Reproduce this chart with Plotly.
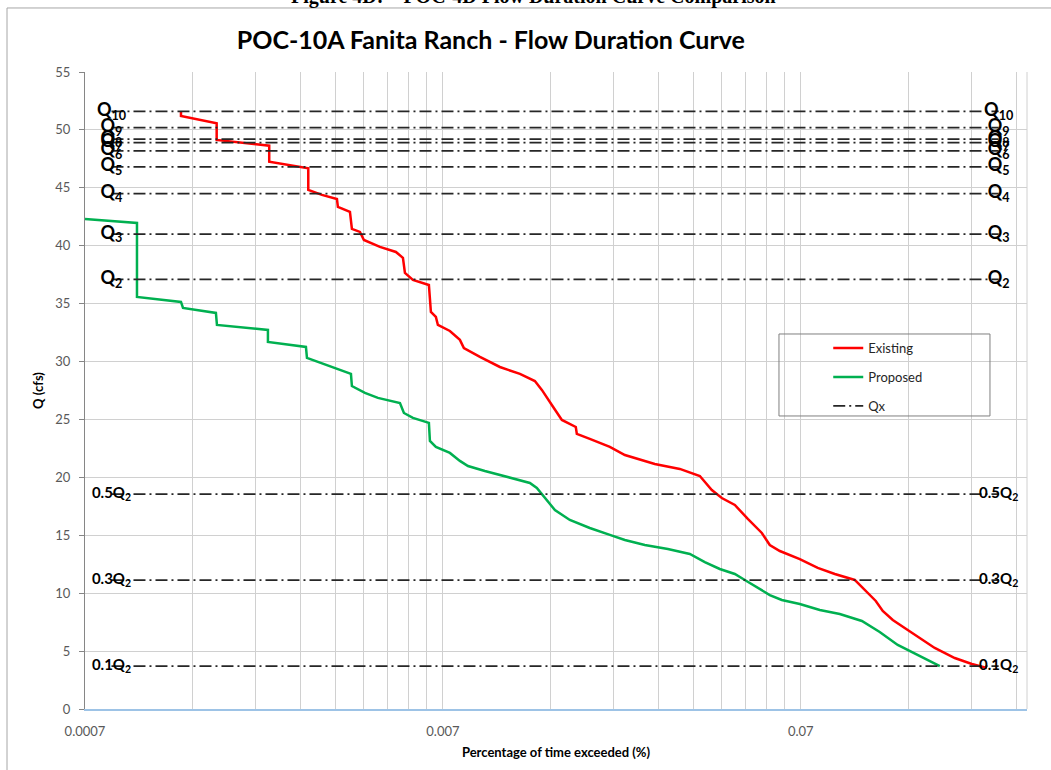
import plotly.graph_objects as go

# Flow-duration data: percentage of time exceeded (%) vs discharge Q (cfs)
existing_pct = [0.001298, 0.001298, 0.001633, 0.001633, 0.00229, 0.00229, 0.002944, 0.002944,
                0.003214, 0.00354, 0.003562, 0.003849, 0.003898, 0.004105, 0.004211, 0.004668,
                0.005174, 0.005413, 0.005483, 0.005772, 0.006397, 0.00648, 0.006691, 0.006778,
                0.007322, 0.007809, 0.008012, 0.008883, 0.0101, 0.01149, 0.01265, 0.01323,
                0.01411, 0.01505, 0.01646, 0.01657, 0.01801, 0.02049, 0.02257, 0.02736,
                0.03214, 0.03656, 0.03949, 0.04211, 0.04579, 0.04978, 0.05448, 0.05734,
                0.06117, 0.06955, 0.07806, 0.08714, 0.09905, 0.1063, 0.1134, 0.1186,
                0.1265, 0.1366, 0.1505, 0.1657, 0.1885, 0.2104, 0.2316]
existing_q = [51.6, 51.21, 50.58, 49.14, 48.64, 47.26, 46.69, 44.82, 44.39, 44.04,
              43.35, 42.92, 41.45, 41.19, 40.50, 39.90, 39.46, 38.95, 37.65, 37.05,
              36.61, 34.28, 33.85, 33.16, 32.64, 31.87, 31.17, 30.40, 29.53, 28.93,
              28.32, 27.55, 26.25, 24.96, 24.35, 23.75, 23.32, 22.63, 21.93, 21.16,
              20.73, 20.12, 18.91, 18.22, 17.62, 16.41, 15.20, 14.16, 13.64, 12.95,
              12.18, 11.66, 11.14, 10.19, 9.33, 8.46, 7.69, 6.99, 6.13, 5.27,
              4.40, 3.89, 3.54]

proposed_pct = [0.0007, 0.000978, 0.000978, 0.001298, 0.001315, 0.001625, 0.001636, 0.002271,
                0.002271, 0.0029, 0.002919, 0.003384, 0.003874, 0.003898, 0.004239, 0.004608,
                0.00531, 0.005447, 0.005772, 0.006397, 0.006439, 0.006691, 0.007322, 0.007809,
                0.008225, 0.00917, 0.01077, 0.01225, 0.01281, 0.01349, 0.01439, 0.01584,
                0.01801, 0.02049, 0.02257, 0.02566, 0.02976, 0.03428, 0.03775, 0.04157,
                0.04579, 0.04883, 0.0531, 0.05734, 0.06194, 0.06955, 0.07911, 0.08995,
                0.1037, 0.1163, 0.1306, 0.1429, 0.1555, 0.1712]
proposed_q = [42.31, 41.97, 35.58, 35.15, 34.63, 34.20, 33.16, 32.73, 31.69, 31.26,
              30.31, 29.62, 28.93, 27.89, 27.29, 26.86, 26.42, 25.56, 25.13, 24.70,
              23.14, 22.63, 22.11, 21.42, 20.98, 20.55, 19.95, 19.52, 19.08, 18.22,
              17.18, 16.32, 15.63, 15.03, 14.59, 14.16, 13.82, 13.39, 12.69, 12.09,
              11.66, 11.14, 10.45, 9.84, 9.41, 9.07, 8.55, 8.20, 7.60, 6.65,
              5.53, 4.92, 4.32, 3.71]

# Return-period flows (cfs) and fractions of Q2
q_labels = ["Q<sub>2</sub>", "Q<sub>3</sub>", "Q<sub>4</sub>", "Q<sub>5</sub>", "Q<sub>6</sub>",
            "Q<sub>7</sub>", "Q<sub>8</sub>", "Q<sub>9</sub>", "Q<sub>10</sub>"]
q_values = [37.1, 41.0, 44.5, 46.8, 48.2, 48.9, 49.2, 50.2, 51.6]
frac_labels = ["0.5Q<sub>2</sub>", "0.3Q<sub>2</sub>", "0.1Q<sub>2</sub>"]
frac_factors = [0.5, 0.3, 0.1]
qx_span = [0.00083, 0.25]

x_major = [0.0007, 0.007, 0.07]
x_major_text = ["0.0007", "0.007", "0.07"]
x_max = 0.3
y_max = 55

FONT = "Lato"

fig = go.Figure()

fig.add_trace(go.Scatter(x=existing_pct, y=existing_q, mode="lines", name="Existing",
                         line=dict(color="#ff0000", width=2.5), legendgroup="a"))
fig.add_trace(go.Scatter(x=proposed_pct, y=proposed_q, mode="lines", name="Proposed",
                         line=dict(color="#00b050", width=2.5), legendgroup="b"))

# Horizontal reference flows drawn as one dash-dot series
level_vals = q_values + [q_values[0] * f for f in frac_factors]
level_text = q_labels + frac_labels
qx_x, qx_y = [], []
for v in level_vals:
    qx_x += [qx_span[0], qx_span[1], None]
    qx_y += [v, v, None]
fig.add_trace(go.Scatter(x=qx_x, y=qx_y, mode="lines", name="Qx",
                         line=dict(color="#262626", width=1.75, dash="12px,4px,2px,4px"),
                         legendgroup="c"))

lab_x, lab_y, lab_t, lab_s = [], [], [], []
for v, t in zip(level_vals, level_text):
    small = t.startswith("0.")
    for xe in qx_span:
        lab_x.append(xe)
        lab_y.append(v)
        lab_t.append("<b>" + t + "</b>")
        lab_s.append(15 if small else 18)
fig.add_trace(go.Scatter(x=lab_x, y=lab_y, mode="text", text=lab_t, textposition="middle center",
                         textfont=dict(family=FONT, size=lab_s, color="#000000"),
                         showlegend=False, hoverinfo="skip"))

# Log-axis gridlines at every multiple of the decade base
grid_vals, grid_text = [], []
for base, txt in zip(x_major, x_major_text):
    for k in range(1, 10):
        v = base * k
        if v <= x_max * 1.0001:
            grid_vals.append(v)
            grid_text.append(txt if k == 1 else "")

fig.update_xaxes(type="log", range=[-3.15490196, -0.52287875], tickmode="array",
                 tickvals=grid_vals, ticktext=grid_text, tickangle=0, showgrid=True,
                 gridcolor="#d0d0d0", gridwidth=1, showline=True, linecolor="#9dc3e6",
                 linewidth=1.5, ticks="", ticklabelstandoff=10,
                 tickfont=dict(family=FONT, size=13, color="#595959"), zeroline=False,
                 title=dict(text="<b>Percentage of time exceeded (%)</b>", standoff=10,
                            font=dict(family=FONT, size=13, color="#000000")))
fig.update_yaxes(range=[0, y_max], dtick=5, showgrid=True, gridcolor="#d0d0d0", gridwidth=1,
                 showline=True, linecolor="#868686", linewidth=1, ticks="outside", ticklen=5,
                 tickcolor="#868686", zeroline=False, ticklabelstandoff=6,
                 tickfont=dict(family=FONT, size=13, color="#595959"),
                 title=dict(text="<b>Q (cfs)</b>", standoff=8,
                            font=dict(family=FONT, size=13, color="#000000")))

fig.update_layout(
    width=1051, height=770,
    margin=dict(l=85, r=24, t=72, b=61),
    paper_bgcolor="white", plot_bgcolor="white",
    title=dict(text="<b>POC-10A Fanita Ranch - Flow Duration Curve</b>", x=0.467, xanchor="center",
               y=0.948, yanchor="middle", font=dict(family=FONT, size=25, color="#000000")),
    legend=dict(x=0.789, y=0.59, xanchor="left", yanchor="top", bgcolor="rgba(0,0,0,0)",
                borderwidth=0, font=dict(family=FONT, size=13, color="#262626"),
                tracegroupgap=9, traceorder="grouped"),
    shapes=[
        dict(type="rect", xref="paper", yref="paper", x0=0.7367, x1=0.9607, y0=0.46, y1=0.5887,
             line=dict(color="#7f7f7f", width=1), fillcolor="rgba(0,0,0,0)", layer="above"),
        dict(type="line", xref="paper", yref="paper", x0=1, x1=1, y0=0, y1=1,
             line=dict(color="#d0d0d0", width=1)),
        dict(type="rect", xref="paper", yref="paper", x0=-0.0828, x1=1.2, y0=-0.3, y1=1.1005,
             line=dict(color="#a6a6a6", width=1), fillcolor="rgba(0,0,0,0)"),
    ],
    annotations=[
        dict(text="<b>Figure 4D: \u2013 POC-4D Flow Duration Curve Comparison</b>", xref="paper",
             yref="paper", x=0.4756, y=1.1178, xanchor="center", yanchor="middle", showarrow=False,
             font=dict(family="Liberation Serif", size=20, color="#000000")),
    ],
)

fig.write_html("out.html")
